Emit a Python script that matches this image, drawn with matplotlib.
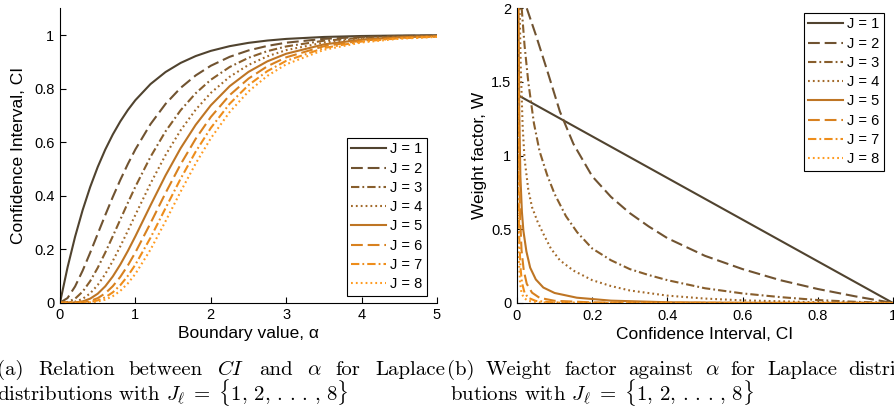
import matplotlib
matplotlib.use('Agg')
import matplotlib.pyplot as plt
from matplotlib.lines import Line2D

plt.rcParams['font.family'] = ['Liberation Sans', 'DejaVu Sans']
plt.rcParams['mathtext.fontset'] = 'cm'
plt.rcParams['lines.scale_dashes'] = False

# ---------------- data ----------------
labels = ['J = 1', 'J = 2', 'J = 3', 'J = 4', 'J = 5', 'J = 6', 'J = 7', 'J = 8']

# (a) confidence interval against boundary value alpha
alpha = [0, 0.1, 0.2, 0.3, 0.4, 0.5, 0.6, 0.7, 0.8, 0.9, 1.0, 1.2, 1.4, 1.6, 1.8,
         2.0, 2.25, 2.5, 2.75, 3.0, 3.5, 4.0, 4.5, 5.0]
ci_J1 = [0, 0.1319, 0.2464, 0.3458, 0.4320, 0.5069, 0.5720, 0.6284, 0.6774, 0.7200, 0.7569, 0.8168,
         0.8619, 0.8959, 0.9216, 0.9409, 0.9585, 0.9709, 0.9795, 0.9856, 0.9929, 0.9965, 0.9983, 0.9992]
ci_J2 = [0, 0.0174, 0.0607, 0.1195, 0.1867, 0.2570, 0.3271, 0.3949, 0.4589, 0.5183, 0.5729, 0.6671,
         0.7429, 0.8027, 0.8493, 0.8853, 0.9187, 0.9426, 0.9595, 0.9715, 0.9859, 0.9930, 0.9966, 0.9983]
ci_J3 = [0, 0.0023, 0.0150, 0.0413, 0.0806, 0.1303, 0.1871, 0.2482, 0.3108, 0.3732, 0.4336, 0.5449,
         0.6403, 0.7191, 0.7827, 0.8329, 0.8806, 0.9151, 0.9399, 0.9575, 0.9789, 0.9896, 0.9949, 0.9975]
ci_J4 = [0, 0.0003, 0.0037, 0.0143, 0.0348, 0.0660, 0.1070, 0.1560, 0.2106, 0.2687, 0.3282, 0.4450,
         0.5519, 0.6443, 0.7213, 0.7837, 0.8441, 0.8884, 0.9206, 0.9438, 0.9720, 0.9861, 0.9931, 0.9966]
ci_J5 = [0, 0.0000, 0.0009, 0.0049, 0.0151, 0.0335, 0.0612, 0.0980, 0.1427, 0.1934, 0.2484, 0.3635,
         0.4757, 0.5772, 0.6647, 0.7374, 0.8090, 0.8625, 0.9018, 0.9302, 0.9651, 0.9827, 0.9914, 0.9958]
ci_J6 = [0, 0.0000, 0.0002, 0.0017, 0.0065, 0.0170, 0.0350, 0.0616, 0.0966, 0.1393, 0.1880, 0.2969,
         0.4100, 0.5172, 0.6126, 0.6938, 0.7755, 0.8374, 0.8834, 0.9168, 0.9583, 0.9792, 0.9897, 0.9949]
ci_J7 = [0, 0.0000, 0.0001, 0.0006, 0.0028, 0.0086, 0.0200, 0.0387, 0.0655, 0.1003, 0.1423, 0.2425,
         0.3534, 0.4633, 0.5646, 0.6528, 0.7433, 0.8130, 0.8653, 0.9037, 0.9515, 0.9758, 0.9880, 0.9941]
ci_J8 = [0, 0.0000, 0.0000, 0.0002, 0.0012, 0.0044, 0.0115, 0.0243, 0.0443, 0.0722, 0.1077, 0.1981,
         0.3046, 0.4151, 0.5203, 0.6142, 0.7124, 0.7893, 0.8476, 0.8907, 0.9448, 0.9724, 0.9863, 0.9932]

# (b) weight factor against confidence interval
wci_J1 = [0.0, 1.0]
w_J1 = [1.414, 0.0]
wci_J2 = [0.026, 0.05, 0.08, 0.114, 0.15, 0.2, 0.25, 0.3, 0.35, 0.4, 0.5, 0.6, 0.7, 0.8, 0.9, 1.0]
w_J2 = [2.0, 1.82, 1.58, 1.30, 1.08, 0.86, 0.72, 0.61, 0.52, 0.44, 0.32, 0.23, 0.155, 0.095, 0.045, 0.0]
wci_J3 = [0.0125, 0.02, 0.03, 0.045, 0.06, 0.08, 0.1, 0.13, 0.16, 0.2, 0.25, 0.3, 0.35, 0.4, 0.5,
          0.6, 0.7, 0.8, 0.9, 1.0]
w_J3 = [2.0, 1.75, 1.5, 1.22, 1.03, 0.87, 0.74, 0.59, 0.48, 0.37, 0.29, 0.23, 0.19, 0.155, 0.10,
        0.065, 0.04, 0.02, 0.008, 0.0]
wci_J4 = [0.007, 0.01, 0.015, 0.02, 0.03, 0.04, 0.055, 0.07, 0.09, 0.114, 0.15, 0.2, 0.25, 0.3,
          0.4, 0.5, 0.6, 0.8, 1.0]
w_J4 = [2.0, 1.6, 1.2, 0.98, 0.77, 0.65, 0.55, 0.47, 0.37, 0.29, 0.22, 0.155, 0.115, 0.085,
        0.05, 0.03, 0.018, 0.005, 0.0]
wci_J5 = [0.004, 0.006, 0.009, 0.013, 0.017, 0.025, 0.035, 0.05, 0.07, 0.1, 0.159, 0.25, 0.4, 0.6, 1.0]
w_J5 = [2.0, 1.3, 0.86, 0.62, 0.49, 0.35, 0.24, 0.16, 0.105, 0.068, 0.036, 0.016, 0.005, 0.001, 0.0]
wci_J6 = [0.003, 0.005, 0.008, 0.012, 0.018, 0.026, 0.04, 0.06, 0.1, 0.2, 0.4, 1.0]
w_J6 = [2.0, 1.1, 0.6, 0.36, 0.22, 0.13, 0.07, 0.035, 0.015, 0.004, 0.001, 0.0]
wci_J7 = [0.002, 0.004, 0.006, 0.009, 0.013, 0.02, 0.03, 0.05, 0.1, 0.2, 1.0]
w_J7 = [2.0, 0.9, 0.45, 0.25, 0.14, 0.07, 0.035, 0.014, 0.004, 0.001, 0.0]
wci_J8 = [0.0015, 0.003, 0.005, 0.008, 0.012, 0.018, 0.03, 0.06, 0.15, 1.0]
w_J8 = [2.0, 0.7, 0.3, 0.14, 0.07, 0.035, 0.014, 0.004, 0.001, 0.0]

# ---------------- style ----------------
colors = ['#50432f', '#705331', '#885e2c', '#a26929', '#be7524', '#d8811f', '#ee8d1b', '#ff9b20']
styles = ['-', (0, (8.5, 3.5)), (0, (6, 2.2, 1.3, 2.2)), (0, (1.3, 2.2)),
          '-', (0, (8.5, 3.5)), (0, (6, 2.2, 1.3, 2.2)), (0, (1.3, 2.2))]
LW = 1.5

W, H = 895, 416
fig = plt.figure(figsize=(W / 100, H / 100), dpi=100)


def px_axes(l, t, r, b):
    return fig.add_axes([l / W, 1 - b / H, (r - l) / W, (b - t) / H])


def style_axes(ax):
    for s in ['top', 'right']:
        ax.spines[s].set_visible(False)
    for s in ['left', 'bottom']:
        ax.spines[s].set_linewidth(0.8)
        ax.spines[s].set_color('black')
    ax.tick_params(direction='in', length=4, width=0.8, labelsize=10.5, pad=4, colors='black')


# ---- left panel ----
axL = px_axes(60, 8.3, 437, 302.7)
ci_all = [ci_J1, ci_J2, ci_J3, ci_J4, ci_J5, ci_J6, ci_J7, ci_J8]
for i, ci in enumerate(ci_all):
    axL.plot(alpha, ci, color=colors[i], linestyle=styles[i], lw=LW)
axL.set_xlim(0, 5)
axL.set_ylim(0, 1.1)
axL.set_xticks([0, 1, 2, 3, 4, 5])
axL.set_xticklabels(['0', '1', '2', '3', '4', '5'])
axL.set_yticks([0, 0.2, 0.4, 0.6, 0.8, 1.0])
axL.set_yticklabels(['0', '0.2', '0.4', '0.6', '0.8', '1'])
style_axes(axL)
axL.set_xlabel('Boundary value, α', fontsize=12.5, labelpad=3)
axL.set_ylabel('Confidence Interval, CI', fontsize=12.5, labelpad=6)

# ---- right panel ----
axR = px_axes(517, 8.3, 893, 303)
wci_all = [wci_J1, wci_J2, wci_J3, wci_J4, wci_J5, wci_J6, wci_J7, wci_J8]
w_all = [w_J1, w_J2, w_J3, w_J4, w_J5, w_J6, w_J7, w_J8]
for i in range(8):
    axR.plot(wci_all[i], w_all[i], color=colors[i], linestyle=styles[i], lw=LW)
axR.set_xlim(0, 1)
axR.set_ylim(0, 2)
axR.set_xticks([0, 0.2, 0.4, 0.6, 0.8, 1.0])
axR.set_xticklabels(['0', '0.2', '0.4', '0.6', '0.8', '1'])
axR.set_yticks([0, 0.5, 1.0, 1.5, 2.0])
axR.set_yticklabels(['0', '0.5', '1', '1.5', '2'])
style_axes(axR)
axR.set_xlabel('Confidence Interval, CI', fontsize=12.5, labelpad=3)
axR.set_ylabel('Weight factor, W', fontsize=12.5, labelpad=3)

# ---- legends ----
handles = [Line2D([], [], color=colors[i], linestyle=styles[i], lw=LW) for i in range(8)]


def add_legend(ax, left, top):
    leg = ax.legend(handles, labels, loc='upper left', bbox_to_anchor=(left / W, 1 - top / H),
                    bbox_transform=fig.transFigure, borderaxespad=0, frameon=True, fancybox=False,
                    edgecolor='black', framealpha=1, fontsize=10.5, borderpad=0.3,
                    handlelength=2.4, handletextpad=0.25, labelspacing=0.36)
    leg.get_frame().set_linewidth(0.8)


add_legend(axL, 347, 138)
add_legend(axR, 804, 13)

# ---- captions (first line justified like LaTeX, second line natural) ----
cap = dict(family='cmr10', fontsize=15, va='baseline', ha='left')
renderer = fig.canvas.get_renderer()


def justified(words, x0, x1, ybase):
    texts = [fig.text(0, 1 - ybase / H, w, **cap) for w in words]
    widths = [t.get_window_extent(renderer).width for t in texts]
    gap = (x1 - x0 - sum(widths)) / (len(words) - 1)
    x = x0
    for t, wd in zip(texts, widths):
        t.set_x(x / W)
        x += wd + gap


justified(['(a)', 'Relation', 'between', '$CI$', 'and', r'$\alpha$', 'for', 'Laplace'], -3, 445, 375)
fig.text(-3 / W, 1 - 400 / H,
         r'distributions with $J_\ell\;=\;\{1,\,2,\,.\,.\,.\,,\,8\}$', **cap)
justified(['(b)', 'Weight', 'factor', 'against', r'$\alpha$', 'for', 'Laplace', 'distri-'],
          447, 903, 375)
fig.text(450 / W, 1 - 400 / H,
         r'butions with $J_\ell\;=\;\{1,\,2,\,.\,.\,.\,,\,8\}$', **cap)

fig.savefig('out.png', dpi=100)
